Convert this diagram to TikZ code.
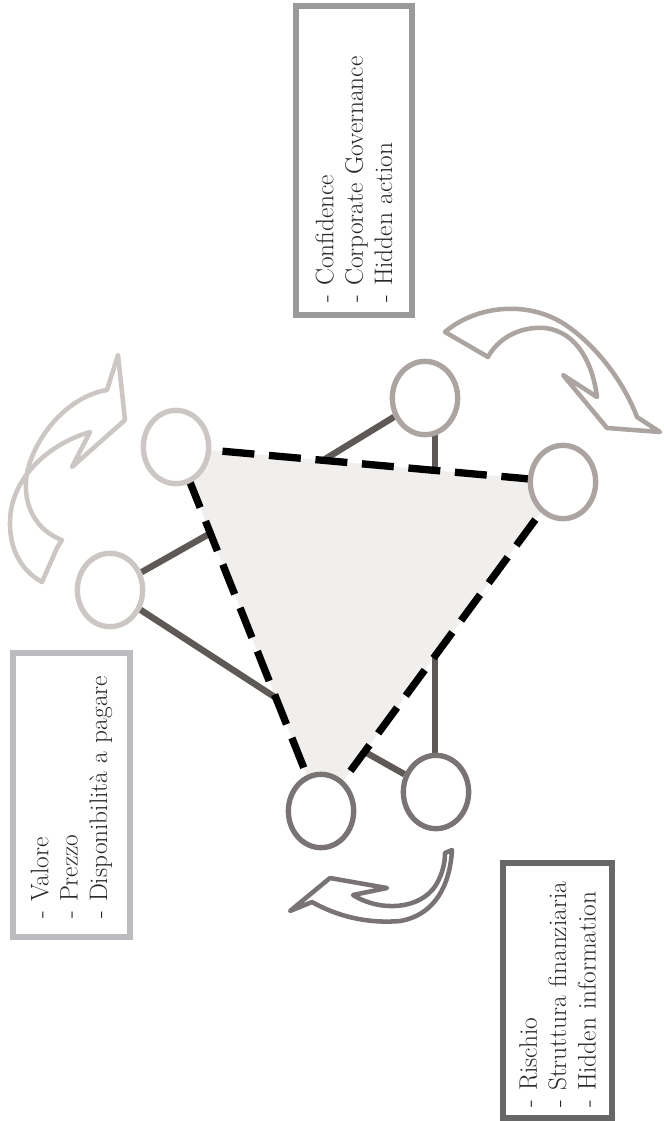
\documentclass[tikz,border=0pt]{standalone}
\usepackage{fontspec}
\usepackage{tikz}
\usetikzlibrary{shapes.geometric,calc,backgrounds}

\definecolor{lightring}{HTML}{CCC6C4}
\definecolor{midring}{HTML}{ABA4A1}
\definecolor{darkring}{HTML}{7A7373}
\definecolor{linkgray}{HTML}{5E5856}
\definecolor{areagray}{HTML}{F0EFEE}
\definecolor{boxlight}{HTML}{BBBCC0}
\definecolor{boxmid}{HTML}{9A9A9A}
\definecolor{boxdark}{HTML}{676767}

\begin{document}
\begin{tikzpicture}[
  x=0.75pt, y=-0.75pt,
  font=\fontsize{19}{22}\selectfont,
  ring/.style={draw, ellipse, fill=white, line width=4pt, minimum width=49pt, minimum height=55pt, inner sep=0pt},
  link/.style={draw=linkgray, line width=4.8pt},
  rim/.style={draw=black, line width=5.5pt, dash pattern=on 24pt off 11pt},
  listbox/.style={draw, line width=5pt, rotate=90, align=left, text=black!85, inner ysep=0pt},
  swirl/.style={line width=3.4pt, fill=white, line join=round}
]
\useasboundingbox (0,0) rectangle (664,1121);

\node[ring, draw=lightring] (tl) at (176,447) {};
\node[ring, draw=lightring] (lm) at (110,590) {};
\node[ring, draw=midring] (tr) at (425,398) {};
\node[ring, draw=midring] (rt) at (563,482) {};
\node[ring, draw=darkring] (bl) at (321,811) {};
\node[ring, draw=darkring] (br) at (436,792) {};

\begin{scope}[on background layer]
\fill[areagray] (tl.center) -- (rt.center) -- (bl.center) -- cycle;
\coordinate (a1) at ($(tl.center)!0.237!(bl.center)$);
\coordinate (a2) at ($(tl.center)!0.689!(bl.center)$);
\coordinate (c1) at ($(tl.center)!0.38!(rt.center)$);
\coordinate (c2) at ($(tl.center)!0.67!(rt.center)$);
\coordinate (e1) at ($(rt.center)!0.53!(bl.center)$);
\coordinate (e2) at ($(rt.center)!0.82!(bl.center)$);
\draw[link] (lm) -- (a1);
\draw[link] (lm) -- (a2);
\draw[link] (tr) -- (c1);
\draw[link] (c2) -- (c2 |- tr.center);
\draw[link] (e1) -- (e1 |- br.center);
\draw[link] (br) -- (e2);
\draw[rim] (tl.center) -- (rt.center);
\draw[rim] (rt.center) -- (bl.center);
\draw[rim] (bl.center) -- (tl.center);
\end{scope}

\draw[swirl, draw=lightring] (118,355) -- (125,420) -- (72,467) -- (90,432)
  .. controls (55,442) and (18,470) .. (11,510)
  .. controls (6,545) and (20,570) .. (42,582)
  -- (57,548) -- (62,540)
  .. controls (30,528) and (20,495) .. (29,465)
  .. controls (42,425) and (75,395) .. (107,390) -- cycle;
\draw[swirl, draw=midring] (445,332)
  .. controls (475,306) and (530,298) .. (570,328)
  .. controls (600,350) and (625,385) .. (637,417)
  -- (660,432) -- (607,428) -- (563,375) -- (597,397)
  .. controls (593,365) and (578,332) .. (545,328)
  .. controls (518,326) and (497,340) .. (488,357) -- cycle;
\draw[swirl, draw=darkring] (290,911) -- (330,878) -- (387,888) -- (353,895)
  .. controls (380,912) and (420,910) .. (436,885)
  .. controls (443,873) and (445,862) .. (445,853)
  -- (452,850)
  .. controls (450,885) and (435,915) .. (400,921)
  .. controls (365,924) and (335,915) .. (312,902) -- cycle;

\node[listbox, draw=boxmid, minimum width=231.75pt, minimum height=87pt, text width=212.25pt, inner xsep=9.75pt] (gov) at (354,160.5) {-~Confidence\\-~Corporate~Governance\\-~Hidden~action};
\node[listbox, draw=boxlight, minimum width=213pt, minimum height=87.75pt, text width=184.5pt, inner xsep=14.25pt] (val) at (71.5,795) {-~Valore\\-~Prezzo\\-~Disponibilità~a~pagare};
\node[listbox, draw=boxdark, minimum width=191.25pt, minimum height=81.75pt, text width=174.75pt, inner xsep=8.25pt] (risk) at (557.5,990.5) {-~Rischio\\-~Struttura~finanziaria\\-~Hidden~information};
\end{tikzpicture}
\end{document}
